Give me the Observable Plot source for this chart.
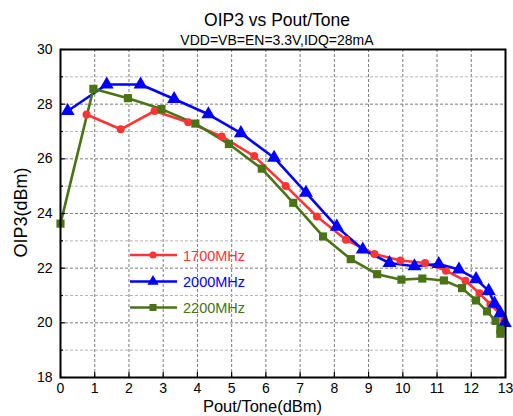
<!DOCTYPE html>
<html>
<head>
<meta charset="utf-8">
<script src="https://cdn.jsdelivr.net/npm/d3@7"></script>
<script src="https://cdn.jsdelivr.net/npm/@observablehq/plot@0.6"></script>
<style>
  html, body { margin: 0; padding: 0; background: #fff; }
  #wrap { position: relative; width: 513px; height: 416px; font-family: "Liberation Sans", Arial, sans-serif; }
  #wrap > svg { position: absolute; left: 0; top: 0; }
</style>
</head>
<body>
<div id="wrap"></div>
<script>
// ---- data ----
const title = "OIP3 vs Pout/Tone";
const subtitle = "VDD=VB=EN=3.3V,IDQ=28mA";
const xLabel = "Pout/Tone(dBm)";
const yLabel = "OIP3(dBm)";

const seriesNames = ["1700MHz", "2000MHz", "2200MHz"];
const seriesColors = ["#ff3535", "#0000ff", "#4a7316"];
const seriesSymbols = ["circle", "triangle", "square"];

const x1700 = [0.76, 1.76, 2.75, 3.73, 4.71, 5.66, 6.58, 7.49, 8.34, 9.17, 9.93, 10.65, 11.26, 11.83, 12.24, 12.56, 12.84, 12.96];
const y1700 = [27.62, 27.08, 27.75, 27.34, 26.82, 26.10, 25.01, 23.89, 23.04, 22.52, 22.28, 22.19, 21.91, 21.54, 21.08, 20.67, 20.33, 20.10];

const x2000 = [0.21, 1.35, 2.34, 3.32, 4.32, 5.27, 6.24, 7.17, 8.07, 8.83, 9.61, 10.34, 11.05, 11.64, 12.14, 12.51, 12.68, 12.85, 12.98];
const y2000 = [27.75, 28.72, 28.72, 28.19, 27.63, 26.94, 26.04, 24.76, 23.52, 22.68, 22.19, 22.07, 22.15, 21.95, 21.60, 21.17, 20.70, 20.35, 20.00];

const x2200 = [0.00, 0.96, 1.97, 2.95, 3.94, 4.92, 5.88, 6.80, 7.67, 8.48, 9.25, 9.96, 10.57, 11.20, 11.73, 12.14, 12.46, 12.71, 12.85, 12.85];
const y2200 = [23.63, 28.56, 28.22, 27.82, 27.29, 26.54, 25.64, 24.39, 23.16, 22.33, 21.78, 21.58, 21.62, 21.55, 21.27, 20.82, 20.42, 20.07, 19.75, 19.60];

const xTicks = [0, 1, 2, 3, 4, 5, 6, 7, 8, 9, 10, 11, 12, 13];
const yTicks = [18, 20, 22, 24, 26, 28, 30];
const yMinor = [19, 21, 23, 25, 27, 29];

// ---- build table ----
const xs = [x1700, x2000, x2200];
const ys = [y1700, y2000, y2200];
const rows = [];
seriesNames.forEach((name, i) => {
  xs[i].forEach((x, j) => rows.push({series: name, x, y: ys[i][j]}));
});

const font = '"Liberation Sans", Arial, sans-serif';
const gridInner = xTicks.slice(1, -1);
const yGridMajor = yTicks.slice(1, -1);

const marks = [
  Plot.gridX(gridInner, {stroke: "#7a7a7a", strokeOpacity: 1, strokeDasharray: "3,2", strokeWidth: 1}),
  Plot.gridY(yGridMajor, {stroke: "#7a7a7a", strokeOpacity: 1, strokeDasharray: "3,2", strokeWidth: 1}),
  Plot.gridY(yMinor, {stroke: "#b5b5b5", strokeOpacity: 1, strokeDasharray: "3,2", strokeWidth: 1})
];
seriesNames.forEach((name, i) => {
  const d = rows.filter(r => r.series === name);
  marks.push(Plot.line(d, {x: "x", y: "y", stroke: seriesColors[i], strokeWidth: 2.6, clip: false}));
});
seriesNames.forEach((name, i) => {
  const d = rows.filter(r => r.series === name);
  const r = seriesSymbols[i] === "circle" ? 4 : seriesSymbols[i] === "triangle" ? 5.2 : 4.6;
  marks.push(Plot.dot(d, {x: "x", y: "y", symbol: () => seriesSymbols[i], r, fill: seriesColors[i], stroke: "none"}));
});
marks.push(
  Plot.axisX(xTicks, {tickSize: 0, tickPadding: 5.5, fontSize: 14, label: null}),
  Plot.axisX(xTicks, {tickSize: -5, text: null, strokeWidth: 1.2, label: null}),
  Plot.axisY(yTicks, {tickSize: 0, tickPadding: 8, fontSize: 14, label: null}),
  Plot.axisY(yTicks, {tickSize: -5, text: null, strokeWidth: 1.2, label: null}),
  Plot.axisY(yMinor, {tickSize: -3, text: null, strokeWidth: 1.2, label: null}),
  Plot.frame({stroke: "#000", strokeWidth: 2})
);

const chart = Plot.plot({
  width: 513,
  height: 416,
  marginTop: 49,
  marginLeft: 60,
  marginRight: 8,
  marginBottom: 39,
  x: {domain: [0, 13], ticks: xTicks},
  y: {domain: [18, 30], ticks: yTicks},
  symbol: {type: "identity"},
  style: {fontFamily: font, fontSize: "14px", color: "#000", background: "transparent", overflow: "visible"},
  marks
});
document.getElementById("wrap").appendChild(chart);

// ---- overlay text & legend ----
const ov = d3.select("#wrap").append("svg").attr("width", 513).attr("height", 416)
  .style("font-family", font).style("pointer-events", "none");

ov.append("text").attr("x", 277).attr("y", 26).attr("text-anchor", "middle")
  .attr("font-size", 17.5).text(title);
ov.append("text").attr("x", 277).attr("y", 45).attr("text-anchor", "middle")
  .attr("font-size", 14).text(subtitle);
ov.append("text").attr("x", 262.5).attr("y", 411.5).attr("text-anchor", "middle")
  .attr("font-size", 16.5).text(xLabel);
ov.append("text").attr("transform", "translate(27,212.5) rotate(-90)").attr("text-anchor", "middle")
  .attr("font-size", 18).text(yLabel);

const legY = [255, 281.5, 307.5];
seriesNames.forEach((name, i) => {
  const g = ov.append("g").attr("transform", `translate(0,${legY[i]})`);
  g.append("line").attr("x1", 130).attr("x2", 177).attr("y1", 0).attr("y2", 0)
    .attr("stroke", seriesColors[i]).attr("stroke-width", 2.6);
  const sym = d3.symbol().type(i === 0 ? d3.symbolCircle : i === 1 ? d3.symbolTriangle : d3.symbolSquare)
    .size(i === 0 ? 40 : i === 1 ? 55 : 50);
  g.append("path").attr("d", sym()).attr("transform", "translate(153,0)").attr("fill", seriesColors[i]);
  g.append("text").attr("x", 183).attr("y", 5.5).attr("font-size", 14.5).attr("fill", seriesColors[i]).text(name);
});
</script>
</body>
</html>
